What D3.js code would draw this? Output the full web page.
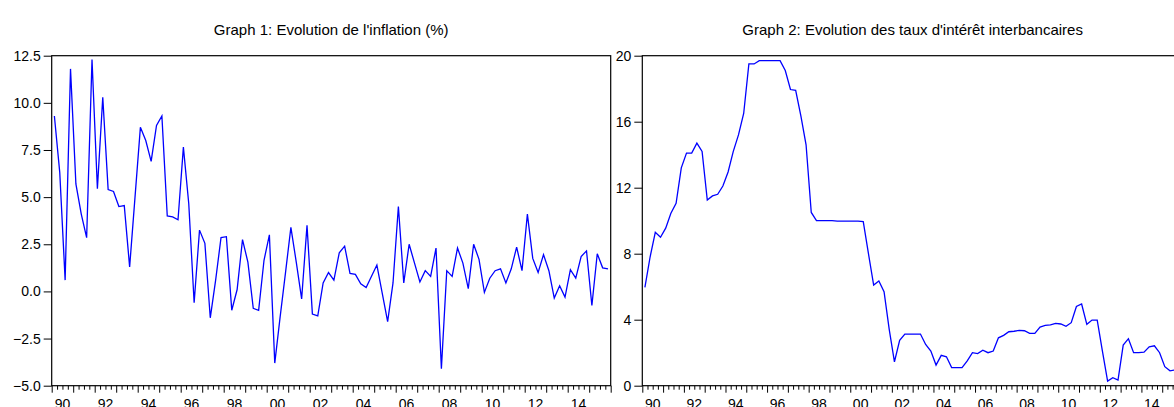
<!DOCTYPE html>
<html>
<head>
<meta charset="utf-8">
<script src="https://cdn.jsdelivr.net/npm/d3@7"></script>
<style>
  html, body { margin: 0; padding: 0; background: #ffffff; }
  svg { display: block; }
  text { font-family: "Liberation Sans", Arial, sans-serif; fill: #000; }
</style>
</head>
<body>
<svg id="chart" width="1174" height="407"></svg>
<script>
// Quarterly series, 1990Q1 to 2015Q4
const startYear = 1990;
const endYear = 2016;

// Inflation rate (%)
const inflation = [
  9.3, 6.3, 0.6, 11.8, 5.7, 4.1, 2.85, 12.3, 5.45, 10.3,
  5.4, 5.3, 4.5, 4.55, 1.3, 5.0, 8.7, 8.0, 6.9, 8.8,
  9.3, 4.0, 3.95, 3.8, 7.65, 4.65, -0.6, 3.25, 2.55, -1.4,
  0.6, 2.85, 2.9, -1.0, 0.1, 2.75, 1.55, -0.9, -1.0, 1.65,
  3.0, -3.8, -1.35, 1.0, 3.4, 1.55, -0.4, 3.5, -1.2, -1.3,
  0.45, 1.0, 0.6, 2.05, 2.4, 0.95, 0.9, 0.4, 0.2, 0.8,
  1.4, -0.1, -1.6, 0.45, 4.5, 0.45, 2.5, 1.5, 0.5, 1.1,
  0.8, 2.3, -4.1, 1.1, 0.8, 2.3, 1.5, 0.15, 2.5, 1.7,
  -0.05, 0.7, 1.1, 1.2, 0.45, 1.2, 2.35, 1.1, 4.1, 1.75,
  1.0, 1.95, 1.1, -0.35, 0.3, -0.3, 1.15, 0.7, 1.85, 2.15,
  -0.75, 2.0, 1.25, 1.2
];

// Interbank interest rate (%)
const interbank = [
  5.96, 7.8, 9.3, 9.0, 9.55, 10.45, 11.05, 13.2, 14.1, 14.1,
  14.7, 14.2, 11.25, 11.5, 11.6, 12.1, 12.95, 14.2, 15.2, 16.5,
  19.5, 19.5, 19.7, 19.7, 19.7, 19.7, 19.7, 19.1, 17.95, 17.9,
  16.35, 14.6, 10.5, 10.0, 10.0, 10.0, 10.0, 9.98, 9.98, 9.98,
  9.98, 9.98, 9.95, 8.0, 6.1, 6.35, 5.7, 3.4, 1.45, 2.75,
  3.13, 3.13, 3.13, 3.13, 2.5, 2.1, 1.25, 1.84, 1.75, 1.1,
  1.1, 1.1, 1.5, 2.0, 1.95, 2.15, 2.0, 2.1, 2.9, 3.05,
  3.27, 3.3, 3.35, 3.33, 3.17, 3.17, 3.55, 3.65, 3.68, 3.78,
  3.74, 3.6, 3.82, 4.8, 4.95, 3.72, 3.98, 3.98, 2.1, 0.28,
  0.48, 0.34, 2.46, 2.85, 2.0, 2.0, 2.03, 2.36, 2.42, 2.0,
  1.15, 0.9, 0.95, 0.95
];

// Axis labels
const xTickLabels = ["90", "92", "94", "96", "98", "00", "02", "04", "06", "08", "10", "12", "14"];
const yTicksInflation = [-5, -2.5, 0, 2.5, 5, 7.5, 10, 12.5];
const yTicksInterbank = [0, 4, 8, 12, 16, 20];

const titles = [
  "Graph 1: Evolution de l'inflation (%)",
  "Graph 2: Evolution des taux d'intérêt interbancaires"
];

const svg = d3.select("#chart");

function drawPanel(cfg) {
  const { left, right, top, bottom, values, yDomain, yTicks, yFormat, title } = cfg;
  const g = svg.append("g");

  const x = d3.scaleLinear().domain([startYear, endYear]).range([left, right]);
  const y = d3.scaleLinear().domain(yDomain).range([bottom, top]);

  // time position of each quarter: centre of its slot
  const t = i => startYear + (i + 0.5) / 4;

  // title
  g.append("text")
    .attr("x", (left + right) / 2)
    .attr("y", 35)
    .attr("text-anchor", "middle")
    .style("font-size", "15px")
    .text(title);

  // y axis (left), ticks pointing outward
  const yAxis = d3.axisLeft(y)
    .tickValues(yTicks)
    .tickFormat(yFormat)
    .tickSizeInner(8)
    .tickSizeOuter(0)
    .tickPadding(3);
  const ya = g.append("g").attr("transform", `translate(${left},0)`).call(yAxis);
  ya.select(".domain").remove();
  ya.selectAll("line").attr("stroke", "#000").attr("stroke-width", 1);
  ya.selectAll("text").style("font-size", "14px").attr("fill", "#000");

  // x axis: quarterly minor ticks, yearly major ticks
  const quarterTicks = d3.range(startYear * 4, endYear * 4 + 1).map(q => q / 4);
  const xMinor = d3.axisBottom(x)
    .tickValues(quarterTicks.filter(v => v % 1 !== 0))
    .tickFormat("")
    .tickSizeInner(4)
    .tickSizeOuter(0);
  const xm = g.append("g").attr("transform", `translate(0,${bottom})`).call(xMinor);
  xm.select(".domain").remove();
  xm.selectAll("line").attr("stroke", "#000");

  const years = d3.range(startYear, endYear + 1);
  const xMajor = d3.axisBottom(x)
    .tickValues(years)
    .tickFormat("")
    .tickSizeInner(7)
    .tickSizeOuter(0);
  const xM = g.append("g").attr("transform", `translate(0,${bottom})`).call(xMajor);
  xM.select(".domain").remove();
  xM.selectAll("line").attr("stroke", "#000");

  // year labels, centred on the year
  g.selectAll("text.xlab")
    .data(xTickLabels)
    .join("text")
    .attr("class", "xlab")
    .attr("x", (d, i) => x(startYear + 2 * i + 0.5))
    .attr("y", 408.5)
    .attr("text-anchor", "middle")
    .style("font-size", "14px")
    .text(d => d);

  // series line
  const line = d3.line()
    .x((d, i) => x(t(i)))
    .y(d => y(d));
  g.append("path")
    .datum(values)
    .attr("fill", "none")
    .attr("stroke", "#0000ff")
    .attr("stroke-width", 1.3)
    .attr("stroke-linejoin", "miter")
    .attr("d", line);

  // frame
  g.append("rect")
    .attr("x", left)
    .attr("y", top)
    .attr("width", right - left)
    .attr("height", bottom - top)
    .attr("fill", "none")
    .attr("stroke", "#000")
    .attr("stroke-width", 1.2);
}

drawPanel({
  left: 51.7, right: 610.7, top: 55.7, bottom: 385.7,
  values: inflation,
  yDomain: [-5, 12.5],
  yTicks: yTicksInflation,
  yFormat: d3.format(".1f"),
  title: titles[0]
});

drawPanel({
  left: 642.3, right: 1183, top: 55.7, bottom: 385.7,
  values: interbank,
  yDomain: [0, 20],
  yTicks: yTicksInterbank,
  yFormat: d3.format("d"),
  title: titles[1]
});
</script>
</body>
</html>
